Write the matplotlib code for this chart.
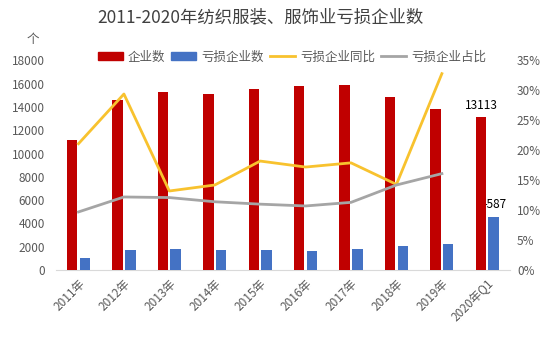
import matplotlib
matplotlib.use("Agg")
import matplotlib.pyplot as plt
import numpy as np
from matplotlib.lines import Line2D
from matplotlib.patches import Patch

plt.rcParams['font.family'] = ['Noto Sans CJK SC', 'DejaVu Sans']

categories = ["2011年", "2012年", "2013年", "2014年", "2015年", "2016年",
              "2017年", "2018年", "2019年", "2020年Q1"]
enterprises = [11200, 14580, 15270, 15160, 15590, 15790, 15870, 14840, 13870, 13113]
loss_enterprises = [1060, 1720, 1810, 1720, 1720, 1660, 1810, 2090, 2270, 4587]
loss_yoy = [21.1, 29.4, 13.2, 14.2, 18.2, 17.2, 17.9, 14.3, 32.8]
loss_share = [9.7, 12.2, 12.1, 11.4, 11.0, 10.7, 11.3, 14.2, 16.1]

RED = "#C00000"
BLUE = "#4472C4"
YELLOW = "#F8C22E"
GRAY = "#A5A5A5"
TXT = "#595959"

fig = plt.figure(figsize=(5.54, 3.41), dpi=100)
ax = fig.add_axes([0.1007, 0.2082, 0.8199, 0.6144])
ax2 = ax.twinx()

x = np.arange(len(categories))
w = 0.23
ax.bar(x - 0.14, enterprises, width=w, color=RED, zorder=3)
ax.bar(x + 0.14, loss_enterprises, width=w, color=BLUE, zorder=3)

ax.text(x[-1] - 0.14, enterprises[-1] + 500, "13113", ha="center", va="bottom",
        fontsize=8.5, color="black", zorder=4)
ax.text(x[-1] + 0.14, loss_enterprises[-1] + 500, "4587", ha="center", va="bottom",
        fontsize=8.5, color="black", zorder=2)

xl = np.arange(len(loss_yoy))
ax2.plot(xl, loss_yoy, color=YELLOW, lw=2.0, zorder=5)
ax2.plot(xl, loss_share, color=GRAY, lw=2.0, zorder=5)

ax2.set_zorder(ax.get_zorder() + 1)
ax2.patch.set_visible(False)

ax.set_xlim(-0.5, len(categories) - 0.5)
ax.set_ylim(0, 18000)
ax.set_yticks(np.arange(0, 18001, 2000))
ax2.set_ylim(0, 35)
ax2.set_yticks(np.arange(0, 36, 5))
ax2.set_yticklabels([f"{v}%" for v in range(0, 36, 5)])

ax.set_xticks(x)
ax.set_xticklabels(categories, rotation=45, ha="right", rotation_mode="anchor",
                   fontsize=8.5, color=TXT)
for a in (ax, ax2):
    for s in a.spines.values():
        s.set_visible(False)
    a.tick_params(length=0, colors=TXT, labelsize=8.5)
ax.spines['bottom'].set_visible(True)
ax.spines['bottom'].set_color("#D9D9D9")
ax.tick_params(axis='y', pad=8)
ax2.tick_params(axis='y', pad=5)
ax.tick_params(axis='x', pad=5)

fig.text(0.47, 0.948, "2011-2020年纺织服装、服饰业亏损企业数", ha="center", va="center",
         fontsize=12.5, color="#404040")
fig.text(0.06, 0.885, "个", ha="center", va="center", fontsize=9, color=TXT)

handles = [Patch(color=RED), Patch(color=BLUE),
           Line2D([0], [0], color=YELLOW, lw=2.0),
           Line2D([0], [0], color=GRAY, lw=2.0)]
labels = ["企业数", "亏损企业数", "亏损企业同比", "亏损企业占比"]
fig.legend(handles, labels, loc="center", bbox_to_anchor=(0.527, 0.833), ncol=4,
           frameon=False, fontsize=9, handlelength=2.0, handleheight=0.7,
           columnspacing=0.5, handletextpad=0.4, labelcolor=TXT)

fig.savefig("out.png", dpi=100)
